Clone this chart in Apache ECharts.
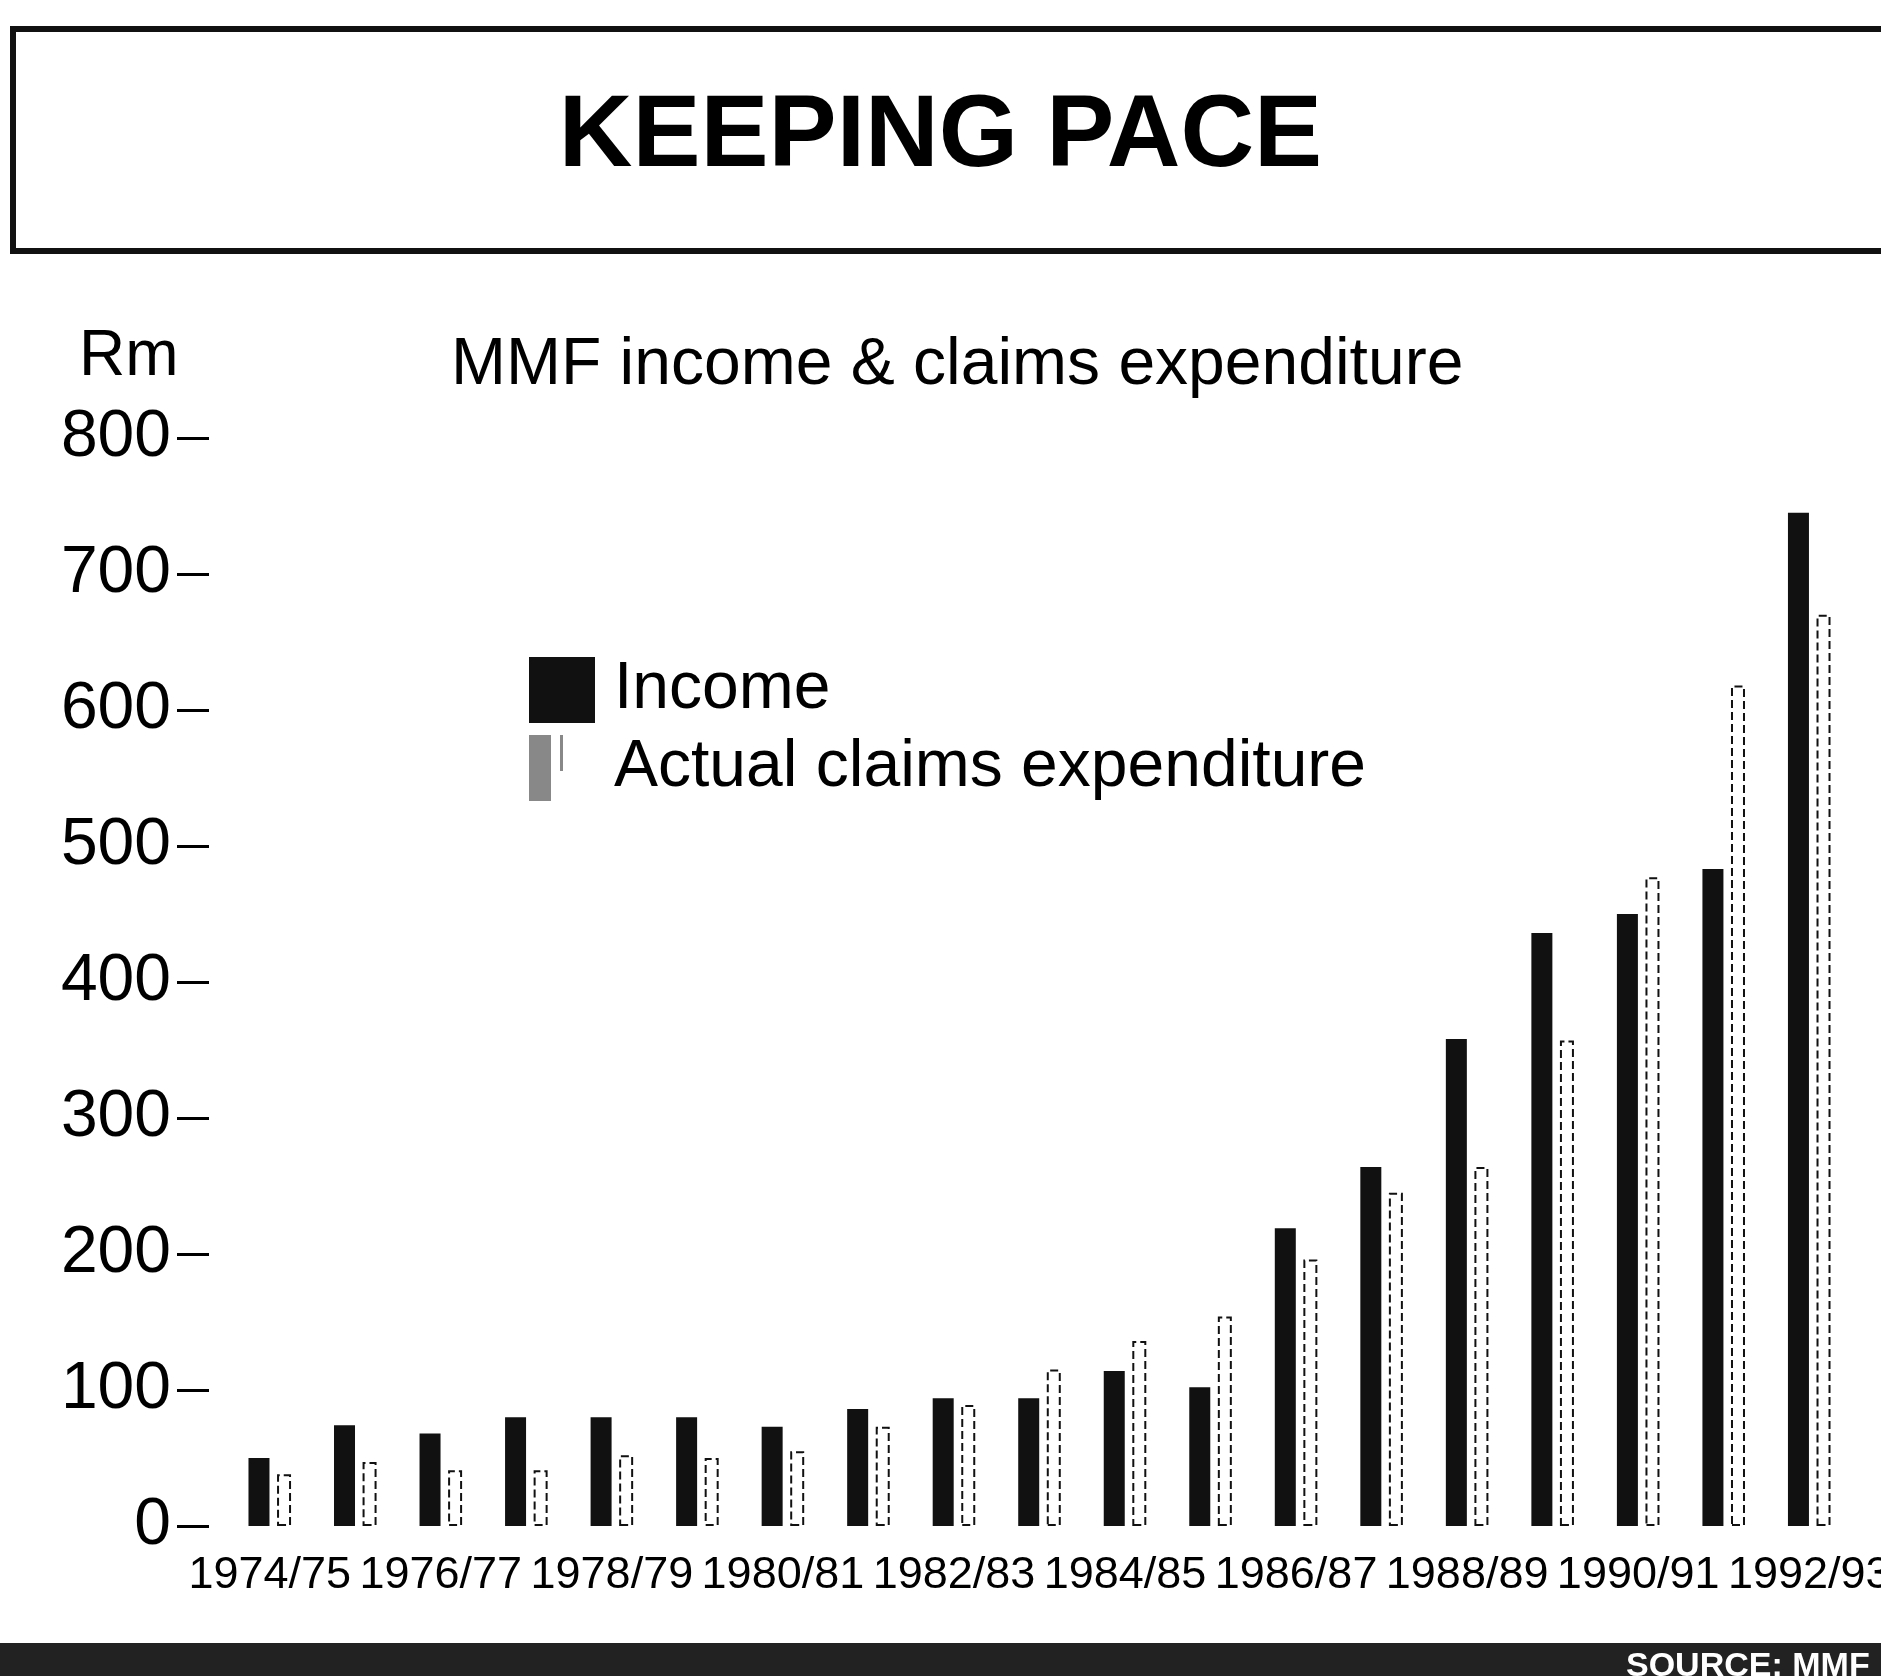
<!DOCTYPE html>
<html>
<head>
<meta charset="utf-8">
<title>Keeping pace</title>
<script src="https://cdn.jsdelivr.net/npm/echarts@6/dist/echarts.min.js"></script>
<style>
html, body { margin: 0; padding: 0; background: #fff; }
#chart { width: 1881px; height: 1676px; }
</style>
</head>
<body>
<div id="chart"></div>
<script>
// financial years
var years = ['1974/75', '1975/76', '1976/77', '1977/78', '1978/79', '1979/80', '1980/81',
  '1981/82', '1982/83', '1983/84', '1984/85', '1985/86', '1986/87', '1987/88',
  '1988/89', '1989/90', '1990/91', '1991/92', '1992/93'];
// Rm
var income = [50, 74, 68, 80, 80, 80, 73, 86, 94, 94, 114, 102, 219, 264, 358, 436, 450, 483, 745];
var claims = [38, 47, 41, 41, 52, 50, 55, 73, 89, 115, 136, 154, 196, 245, 264, 357, 477, 618, 670];
// y axis
var yMin = 0;
var yMax = 800;
var yStep = 100;

var chart = echarts.init(document.getElementById('chart'));
var font = 'Liberation Sans, Arial, sans-serif';

chart.setOption({
  animation: false,
  backgroundColor: '#fff',
  textStyle: { fontFamily: font, color: '#000' },
  title: [
    { text: 'KEEPING PACE', left: 'center', top: 82,
      textStyle: { fontFamily: font, fontWeight: 'bold', fontSize: 102, color: '#000' } },
    { text: 'Rm', left: 74, top: 320,
      textStyle: { fontFamily: font, fontWeight: 'normal', fontSize: 64, color: '#000' } },
    { text: 'MMF income & claims expenditure', left: 446, top: 328,
      textStyle: { fontFamily: font, fontWeight: 'normal', fontSize: 66, color: '#000' } }
  ],
  legend: {
    orient: 'vertical',
    left: 524,
    top: 652,
    itemWidth: 80,
    itemHeight: 66,
    itemGap: 12,
    textStyle: { fontFamily: font, fontSize: 66, color: '#000' },
    data: [
      { name: 'Income', icon: 'path://M0,0H66V66H0Z M80,66' },
      { name: 'Actual claims expenditure', icon: 'path://M0,0H22V66H0Z M31,0H34V36H31Z M80,66',
        itemStyle: { color: '#888', borderWidth: 0 } }
    ]
  },
  grid: { left: 227, right: 29, top: 438, bottom: 150, outerBoundsMode: 'none' },
  xAxis: {
    type: 'category',
    data: years,
    axisLine: { show: false },
    axisTick: { show: false },
    axisLabel: {
      interval: 1, margin: 27, fontFamily: font, fontSize: 45, color: '#000',
      showMinLabel: true, showMaxLabel: true, hideOverlap: false
    }
  },
  yAxis: {
    type: 'value',
    min: yMin,
    max: yMax,
    interval: yStep,
    offset: 18,
    axisLine: { show: false },
    axisTick: { show: true, length: 32, lineStyle: { color: '#000', width: 3 } },
    splitLine: { show: false },
    axisLabel: { margin: 38, fontFamily: font, fontSize: 66, color: '#000' }
  },
  series: [
    {
      name: 'Income',
      type: 'bar',
      data: income,
      barWidth: 21,
      barGap: '36%',
      itemStyle: { color: '#111' }
    },
    {
      name: 'Actual claims expenditure',
      type: 'bar',
      data: claims,
      barWidth: 14,
      itemStyle: { color: '#fff', borderColor: '#111', borderWidth: 2, borderType: 'dashed' }
    }
  ],
  graphic: [
    { type: 'rect', silent: true, shape: { x: 13, y: 29, width: 1900, height: 222 },
      style: { fill: 'none', stroke: '#111', lineWidth: 6 } },
    { type: 'rect', silent: true, shape: { x: 0, y: 1643, width: 1881, height: 33 },
      style: { fill: '#222' } },
    { type: 'text', silent: true, x: 1626, y: 1650,
      style: { text: 'SOURCE: MMF', fill: '#fff', font: 'bold 34px Liberation Sans' } }
  ]
});
</script>
</body>
</html>
